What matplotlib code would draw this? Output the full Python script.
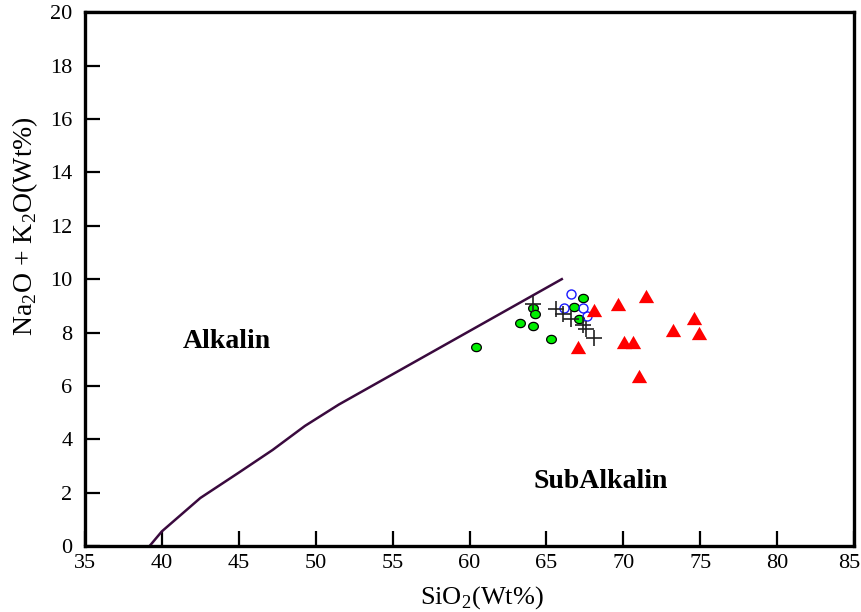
import numpy as np
import matplotlib
matplotlib.use("Agg")
import matplotlib.pyplot as plt
import matplotlib.transforms as mtransforms
from matplotlib.path import Path

plt.rcParams['font.family'] = ['Liberation Serif', 'DejaVu Serif']
plt.rcParams['mathtext.fontset'] = 'custom'
plt.rcParams['mathtext.rm'] = 'Liberation Serif'

# Alkaline / subalkaline dividing line (Irvine & Baragar style)
boundary_sio2 = [39.2, 40.0, 42.5, 45.0, 47.2, 49.3, 51.5, 66.0]
boundary_alk = [0.0, 0.55, 1.8, 2.75, 3.6, 4.5, 5.3, 10.0]

# Sample groups: SiO2 and total alkali (Na2O + K2O)
green_sio2 = [60.4, 63.3, 64.15, 64.25, 64.15, 65.3, 67.4, 66.8, 67.1]
green_alk = [7.46, 8.34, 8.9, 8.68, 8.24, 7.74, 9.3, 8.95, 8.52]

blue_sio2 = [66.6, 66.15, 67.4, 67.65]
blue_alk = [9.45, 8.93, 8.93, 8.63]

cross_sio2 = [64.1, 65.6, 66.1, 66.6, 67.4, 67.6, 68.1]
cross_alk = [9.07, 8.88, 8.68, 8.5, 8.3, 8.15, 7.8]

red_sio2 = [67.05, 68.1, 69.65, 71.45, 74.6, 73.2, 74.9, 70.05, 70.6, 71.05]
red_alk = [7.45, 8.85, 9.06, 9.37, 8.55, 8.1, 8.0, 7.65, 7.65, 6.38]

x_ticks = [35, 40, 45, 50, 55, 60, 65, 70, 75, 80, 85]
y_ticks = [0, 2, 4, 6, 8, 10, 12, 14, 16, 18, 20]

# slightly flattened circle and squat triangle markers
t = np.linspace(0, 2 * np.pi, 60)
ellipse = Path(np.column_stack([np.cos(t), 0.85 * np.sin(t)]), closed=True)
tri = Path([[0, 0.87], [-1, -0.87], [1, -0.87], [0, 0.87]], closed=True)

fig = plt.figure(figsize=(8.61, 6.12), dpi=100)
ax = fig.add_axes([0.0987, 0.1078, 0.8932, 0.8722])

ax.plot(boundary_sio2, boundary_alk, color='#3a0a3e', lw=1.8, zorder=2)

ax.plot(green_sio2, green_alk, ls='none', marker=ellipse, ms=7,
        mfc='#00ee00', mec='black', mew=0.9, zorder=3)
ax.plot(blue_sio2, blue_alk, ls='none', marker='o', ms=6.5,
        mfc='none', mec='#1a1aff', mew=1.0, zorder=3)
ax.plot(cross_sio2, cross_alk, ls='none', marker='+', ms=11.5,
        mec='#222222', mew=1.2, zorder=4)
ax.plot(red_sio2, red_alk, ls='none', marker=tri, ms=11,
        mfc='#ff0000', mec='none', zorder=3)

ax.text(44.2, 7.68, 'Alkalin', fontsize=20, fontweight='bold',
        ha='center', va='center')
ax.text(68.5, 2.4, 'SubAlkalin', fontsize=20, fontweight='bold',
        ha='center', va='center')

ax.set_xlim(35, 85)
ax.set_ylim(0, 20)
ax.set_xticks(x_ticks)
ax.set_yticks(y_ticks)
ax.tick_params(direction='in', length=11, width=1.6, labelsize=16,
               top=False, right=False)
ax.tick_params(axis='x', pad=6)
ax.tick_params(axis='y', pad=9)

# keep the last x label inside the canvas
last = ax.get_xticklabels()[-1]
last.set_transform(last.get_transform() +
                   mtransforms.ScaledTranslation(-5 / 100, 0, fig.dpi_scale_trans))

for sp in ax.spines.values():
    sp.set_linewidth(2.4)

ax.set_xlabel(r'SiO$_2$(Wt%)', fontsize=19)
ax.set_ylabel(r'Na$_2$O + K$_2$O(Wt%)', fontsize=20)
ax.xaxis.set_label_coords(0.516, -0.072)
ax.yaxis.set_label_coords(-0.058, 0.60)

fig.savefig('out.png', dpi=100)
